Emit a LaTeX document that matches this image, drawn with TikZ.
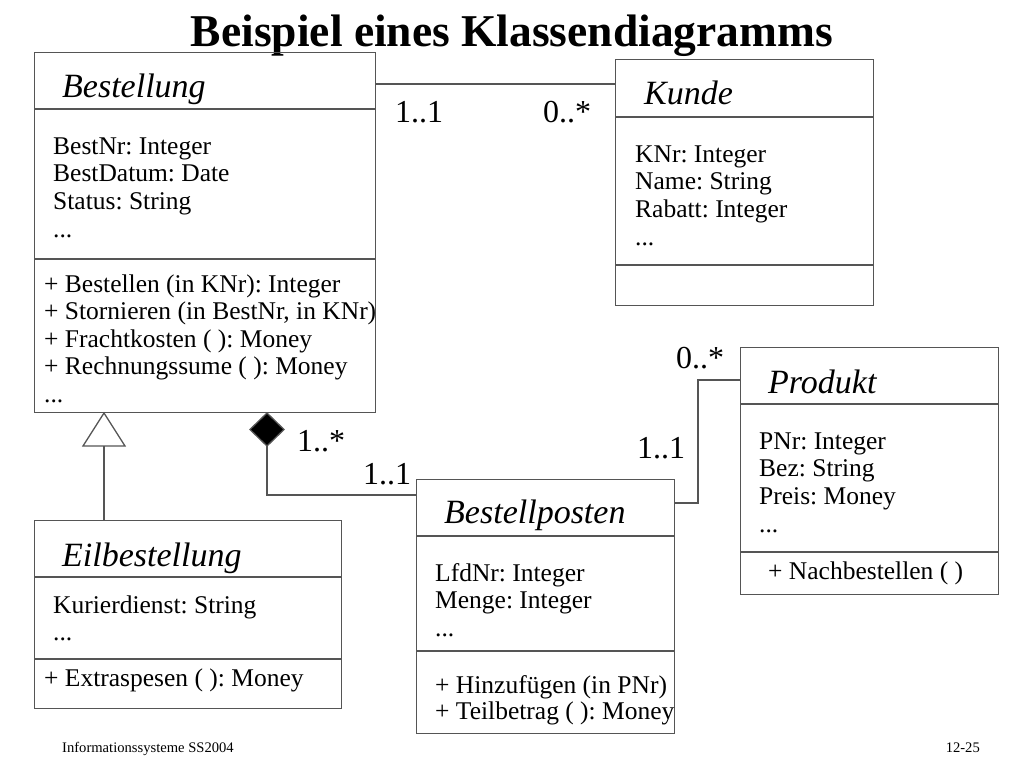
\documentclass[tikz,border=0pt]{standalone}
\usepackage{fontspec}
\setmainfont{Liberation Serif}
\definecolor{linegray}{RGB}{85,85,85}
\frenchspacing
\begin{document}
\begin{tikzpicture}[x=1pt,y=-1pt,
  umlbox/.style={draw=linegray,line width=1.3pt,inner sep=0pt,anchor=north west},
  umlline/.style={draw=linegray,line width=1.3pt},
  cname/.style={anchor=base west,inner sep=0pt,font=\fontsize{34}{36}\selectfont\itshape},
  attr/.style={anchor=base west,inner sep=0pt,font=\fontsize{25.5}{28}\selectfont},
  mult/.style={anchor=base west,inner sep=0pt,font=\fontsize{32}{34}\selectfont},
  footer/.style={inner sep=0pt,font=\fontsize{14.6}{16}\selectfont}]
\useasboundingbox (0,0) rectangle (1024,768);
% title and footer
\node[anchor=base,inner sep=0pt,font=\fontsize{45.5}{50}\selectfont\bfseries] (title) at (512,46) {Beispiel eines Klassendiagramms};
\node[footer,anchor=base west] (foot) at (62,752) {Informationssysteme SS2004};
\node[footer,anchor=base east] (page) at (980,752) {12-25};
% Bestellung
\node[umlbox,minimum width=341pt,minimum height=360pt] (bestellung) at (34,52) {};
\draw[umlline] (bestellung.west |- 0,109) -- (bestellung.east |- 0,109);
\draw[umlline] (bestellung.west |- 0,259) -- (bestellung.east |- 0,259);
\node[cname] (bestname) at (62,97) {Bestellung};
\foreach \txt [count=\i from 0] in {BestNr: Integer,BestDatum: Date,Status: String,.{}.{}.}
  \node[attr] (bestattr\i) at (53,154+27.7*\i) {\txt};
\foreach \txt [count=\i from 0] in {+ Bestellen (in KNr): Integer,{+ Stornieren (in BestNr, in KNr)},+ Frachtkosten ( ): Money,+ Rechnungssume ( ): Money,.{}.{}.}
  \node[attr] (bestop\i) at (44,292+27.5*\i) {\txt};
% Kunde
\node[umlbox,minimum width=258pt,minimum height=246pt] (kunde) at (615,59) {};
\draw[umlline] (kunde.west |- 0,117) -- (kunde.east |- 0,117);
\draw[umlline] (kunde.west |- 0,265) -- (kunde.east |- 0,265);
\node[cname] (kundename) at (644,104) {Kunde};
\foreach \txt [count=\i from 0] in {KNr: Integer,Name: String,Rabatt: Integer,.{}.{}.}
  \node[attr] (kundeattr\i) at (635,162+27.7*\i) {\txt};
% Produkt
\node[umlbox,minimum width=258pt,minimum height=247pt] (produkt) at (740,347) {};
\draw[umlline] (produkt.west |- 0,404) -- (produkt.east |- 0,404);
\draw[umlline] (produkt.west |- 0,552) -- (produkt.east |- 0,552);
\node[cname] (prodname) at (768,393) {Produkt};
\foreach \txt [count=\i from 0] in {PNr: Integer,Bez: String,Preis: Money,.{}.{}.}
  \node[attr] (prodattr\i) at (759,449+27.7*\i) {\txt};
\node[attr] (prodop0) at (768,579) {+ Nachbestellen ( )};
% Bestellposten
\node[umlbox,minimum width=258pt,minimum height=254pt] (posten) at (416,479) {};
\draw[umlline] (posten.west |- 0,536) -- (posten.east |- 0,536);
\draw[umlline] (posten.west |- 0,651) -- (posten.east |- 0,651);
\node[cname] (postenname) at (444,523) {Bestellposten};
\foreach \txt [count=\i from 0] in {LfdNr: Integer,Menge: Integer,.{}.{}.}
  \node[attr] (postenattr\i) at (435,581+27.5*\i) {\txt};
\foreach \txt [count=\i from 0] in {+ Hinzufügen (in PNr),+ Teilbetrag ( ): Money}
  \node[attr] (postenop\i) at (435,693+26.5*\i) {\txt};
% Eilbestellung
\node[umlbox,minimum width=307pt,minimum height=188pt] (eil) at (34,520) {};
\draw[umlline] (eil.west |- 0,577) -- (eil.east |- 0,577);
\draw[umlline] (eil.west |- 0,659) -- (eil.east |- 0,659);
\node[cname] (eilname) at (62,566) {Eilbestellung};
\foreach \txt [count=\i from 0] in {Kurierdienst: String,.{}.{}.}
  \node[attr] (eilattr\i) at (53,613+27.5*\i) {\txt};
\node[attr] (eilop0) at (44,686) {+ Extraspesen ( ): Money};
% Bestellung -- Kunde
\draw[umlline] (bestellung.east |- 0,84) -- (kunde.west |- 0,84);
\node[mult] (mk1) at (395,122) {1..1};
\node[mult] (mk2) at (543,122) {0..*};
% generalization
\coordinate (genbase) at (104,446);
\draw[umlline,fill=white] (104,413) -- (125,446) -- (83,446) -- cycle;
\draw[umlline] (genbase) -- (eil.north -| genbase);
% composition
\coordinate (compbase) at (267,446);
\draw[umlline,fill=black] (267,413) -- (284,429.5) -- (compbase) -- (250,429.5) -- cycle;
\draw[umlline] (compbase) |- (posten.west |- 0,495);
\node[mult] (mc1) at (297,451) {1..*};
\node[mult] (mc2) at (363,484) {1..1};
% Bestellposten -- Produkt
\coordinate (bend) at (698,380);
\draw[umlline] (posten.east |- 0,503) -| (bend) -- (produkt.west |- bend);
\node[mult] (mp1) at (676,368) {0..*};
\node[mult] (mp2) at (637,458) {1..1};
\end{tikzpicture}
\end{document}
